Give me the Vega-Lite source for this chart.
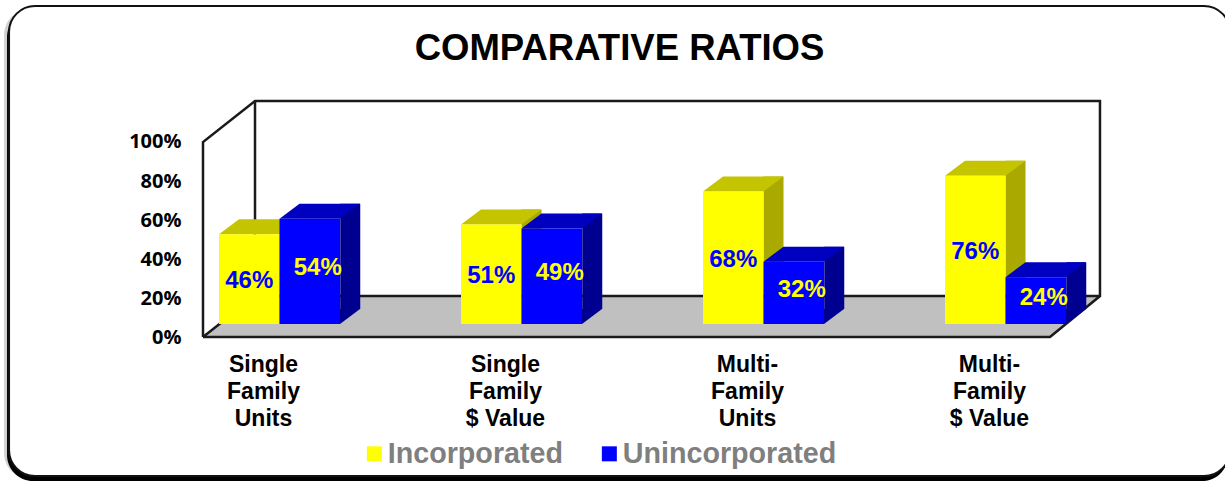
{
"$schema":"https://vega.github.io/schema/vega-lite/v6.json",
"width":1225,"height":481,"autosize":"none","padding":0,"background":"white",
"title":{"text":"COMPARATIVE RATIOS","font":"Liberation Sans","fontWeight":"bold","fontSize":36.5,"color":"#000000","anchor":"middle","orient":"top","offset":-96,"dx":7,"baseline":"alphabetic"},
"config":{"view":{"stroke":null},"axis":{"grid":false}},
"datasets":{
"bars":[
{"category":"Single|Family|Units","series":"Incorporated","value":0.46},
{"category":"Single|Family|Units","series":"Unincorporated","value":0.54},
{"category":"Single|Family|$ Value","series":"Incorporated","value":0.51},
{"category":"Single|Family|$ Value","series":"Unincorporated","value":0.49},
{"category":"Multi-|Family|Units","series":"Incorporated","value":0.68},
{"category":"Multi-|Family|Units","series":"Unincorporated","value":0.32},
{"category":"Multi-|Family|$ Value","series":"Incorporated","value":0.76},
{"category":"Multi-|Family|$ Value","series":"Unincorporated","value":0.24}
],
"panel":[{"u0":-0.229,"u1":1.2125,"v0":-0.713,"v1":1.697}],
"floor":[
{"u":0,"top":0,"bottom":0},
{"u":0.0614,"top":0.21,"bottom":0},
{"u":1,"top":0.21,"bottom":0},
{"u":1.059,"top":0.21,"bottom":0.21}
],
"frame":[
{"edge":"outer","seq":1,"u":0,"v":0},
{"edge":"outer","seq":2,"u":0,"v":1},
{"edge":"outer","seq":3,"u":0.0614,"v":1.21},
{"edge":"outer","seq":4,"u":1.059,"v":1.21},
{"edge":"outer","seq":5,"u":1.059,"v":0.21},
{"edge":"outer","seq":6,"u":1,"v":0},
{"edge":"outer","seq":7,"u":0,"v":0},
{"edge":"inner","seq":1,"u":0.0614,"v":1.21},
{"edge":"inner","seq":2,"u":0.0614,"v":0.21},
{"edge":"inner","seq":3,"u":1.059,"v":0.21},
{"edge":"corner","seq":1,"u":0,"v":0},
{"edge":"corner","seq":2,"u":0.0614,"v":0.21}
]
},
"resolve":{"scale":{"x":"independent"}},
"layer":[
{"layer":[
{"data":{"name":"panel"},"mark":{"type":"rect","cornerRadius":26,"fill":"#000000","opacity":0.18,"xOffset":-5,"x2Offset":-5,"yOffset":3,"y2Offset":3},
"encoding":{"x":{"field":"u0","type":"quantitative","scale":{"domain":[0,1],"range":[203,1050],"nice":false,"zero":false},"axis":null},"x2":{"field":"u1"},
"y":{"field":"v0","type":"quantitative","title":null,"scale":{"domain":[-0.738,1.728],"nice":false,"zero":false},"axis":{"values":[0,0.2,0.4,0.6,0.8,1],"format":".0%","title":null,"domain":false,"ticks":false,"grid":false,"zindex":1,"offset":-181,"labelPadding":0,"labelFont":"Open Sans","labelFontWeight":"bold","labelFontSize":20,"labelColor":"#000000"}},"y2":{"field":"v1"}}},
{"data":{"name":"panel"},"mark":{"type":"rect","cornerRadius":26,"fill":"#000000","xOffset":-2,"x2Offset":-2,"yOffset":5,"y2Offset":5},
"encoding":{"x":{"field":"u0","type":"quantitative","axis":null},"x2":{"field":"u1"},"y":{"field":"v0","type":"quantitative","title":null},"y2":{"field":"v1"}}},
{"data":{"name":"panel"},"mark":{"type":"rect","cornerRadius":26,"fill":"#ffffff","stroke":"#111111","strokeWidth":2},
"encoding":{"x":{"field":"u0","type":"quantitative","axis":null},"x2":{"field":"u1"},"y":{"field":"v0","type":"quantitative","title":null},"y2":{"field":"v1"}}},
{"data":{"name":"floor"},"mark":{"type":"area","fill":"#c0c0c0","stroke":null},
"encoding":{"x":{"field":"u","type":"quantitative","axis":null},"y":{"field":"top","type":"quantitative","title":null},"y2":{"field":"bottom"}}},
{"data":{"name":"frame"},"mark":{"type":"line","stroke":"#1a1a1a","strokeWidth":2.5,"strokeJoin":"miter"},
"encoding":{"x":{"field":"u","type":"quantitative","axis":null},"y":{"field":"v","type":"quantitative","title":null},"detail":{"field":"edge"},"order":{"field":"seq"}}}
]},
{"data":{"name":"bars"},"encoding":{
"x":{"field":"category","type":"nominal","sort":null,"title":null,"scale":{"range":[158.5,1126.5],"paddingInner":0.5,"paddingOuter":0.25},"axis":{"title":null,"domain":false,"ticks":false,"zindex":1,"labelAngle":0,"offset":-128,"labelPadding":0,"labelOffset":-16,"labelExpr":"split(datum.label,'|')","labelFont":"Liberation Sans","labelFontWeight":"bold","labelFontSize":23,"labelLineHeight":27,"labelColor":"#000000","labelBaseline":"top"}},
"xOffset":{"field":"series","type":"nominal","scale":{"domain":["Incorporated","Unincorporated"]}},
"y":{"field":"value","type":"quantitative","title":null}},
"layer":[
{"transform":[{"filter":"datum.series==='Incorporated'"}],"mark":{"type":"rule","stroke":"#a9a900","strokeWidth":20,"strokeCap":"butt","xOffset":10,"yOffset":-28,"y2Offset":-28},"encoding":{"xOffset":null,"y2":{"datum":0}}},
{"transform":[{"filter":"datum.series==='Incorporated'"}],"mark":{"type":"point","shape":"M30.25,0 L50.25,-15 L30.25,-15 Z","size":4,"filled":true,"opacity":1,"strokeWidth":0,"fill":"#a9a900","yOffset":-13},"encoding":{"y":{"datum":0,"title":null}}},
{"transform":[{"filter":"datum.series==='Incorporated'"}],"mark":{"type":"point","shape":"M-30.25,0 L30.25,0 L50.25,-15 L-10.25,-15 Z","size":4,"filled":true,"opacity":1,"strokeWidth":0,"fill":"#c4c400","yOffset":-13}},
{"transform":[{"filter":"datum.series==='Incorporated'"}],"mark":{"type":"bar","yOffset":-13,"y2Offset":-13},"encoding":{"y2":{"datum":0},"color":{"field":"series","type":"nominal","scale":{"domain":["Incorporated","Unincorporated"],"range":["#ffff00","#0000ff"]},"legend":{"title":null,"orient":"none","legendX":360,"legendY":439,"direction":"horizontal","symbolType":"square","symbolSize":225,"symbolStrokeWidth":0,"labelFont":"Liberation Sans","labelFontWeight":"bold","labelFontSize":28.7,"labelColor":"#7f7f7f","labelOffset":-1,"columnPadding":31,"labelLimit":400}}}},
{"transform":[{"filter":"datum.series==='Unincorporated'"}],"mark":{"type":"rule","stroke":"#000090","strokeWidth":20,"strokeCap":"butt","xOffset":70.75,"yOffset":-28,"y2Offset":-28},"encoding":{"xOffset":null,"y2":{"datum":0}}},
{"transform":[{"filter":"datum.series==='Unincorporated'"}],"mark":{"type":"point","shape":"M30.25,0 L50.25,-15 L30.25,-15 Z","size":4,"filled":true,"opacity":1,"strokeWidth":0,"fill":"#000090","yOffset":-13},"encoding":{"y":{"datum":0,"title":null}}},
{"transform":[{"filter":"datum.series==='Unincorporated'"}],"mark":{"type":"point","shape":"M-30.25,0 L30.25,0 L50.25,-15 L-10.25,-15 Z","size":4,"filled":true,"opacity":1,"strokeWidth":0,"fill":"#0000c0","yOffset":-13}},
{"transform":[{"filter":"datum.series==='Unincorporated'"}],"mark":{"type":"bar","yOffset":-13,"y2Offset":-13},"encoding":{"y2":{"datum":0},"color":{"field":"series","type":"nominal"}}},
{"transform":[{"filter":"datum.series==='Incorporated'"},{"calculate":"datum.value/2","as":"mid"}],"mark":{"type":"text","font":"Liberation Sans","fontWeight":"bold","fontSize":24,"fill":"#0000ff","yOffset":-11,"baseline":"middle"},"encoding":{"y":{"field":"mid","type":"quantitative","title":null},"text":{"field":"value","type":"quantitative","format":".0%"}}},
{"transform":[{"filter":"datum.series==='Unincorporated'"},{"calculate":"datum.value/2","as":"mid"}],"mark":{"type":"text","font":"Liberation Sans","fontWeight":"bold","fontSize":24,"fill":"#ffff00","yOffset":-16,"dx":8,"baseline":"middle"},"encoding":{"y":{"field":"mid","type":"quantitative","title":null},"text":{"field":"value","type":"quantitative","format":".0%"}}}
]}
]
}
